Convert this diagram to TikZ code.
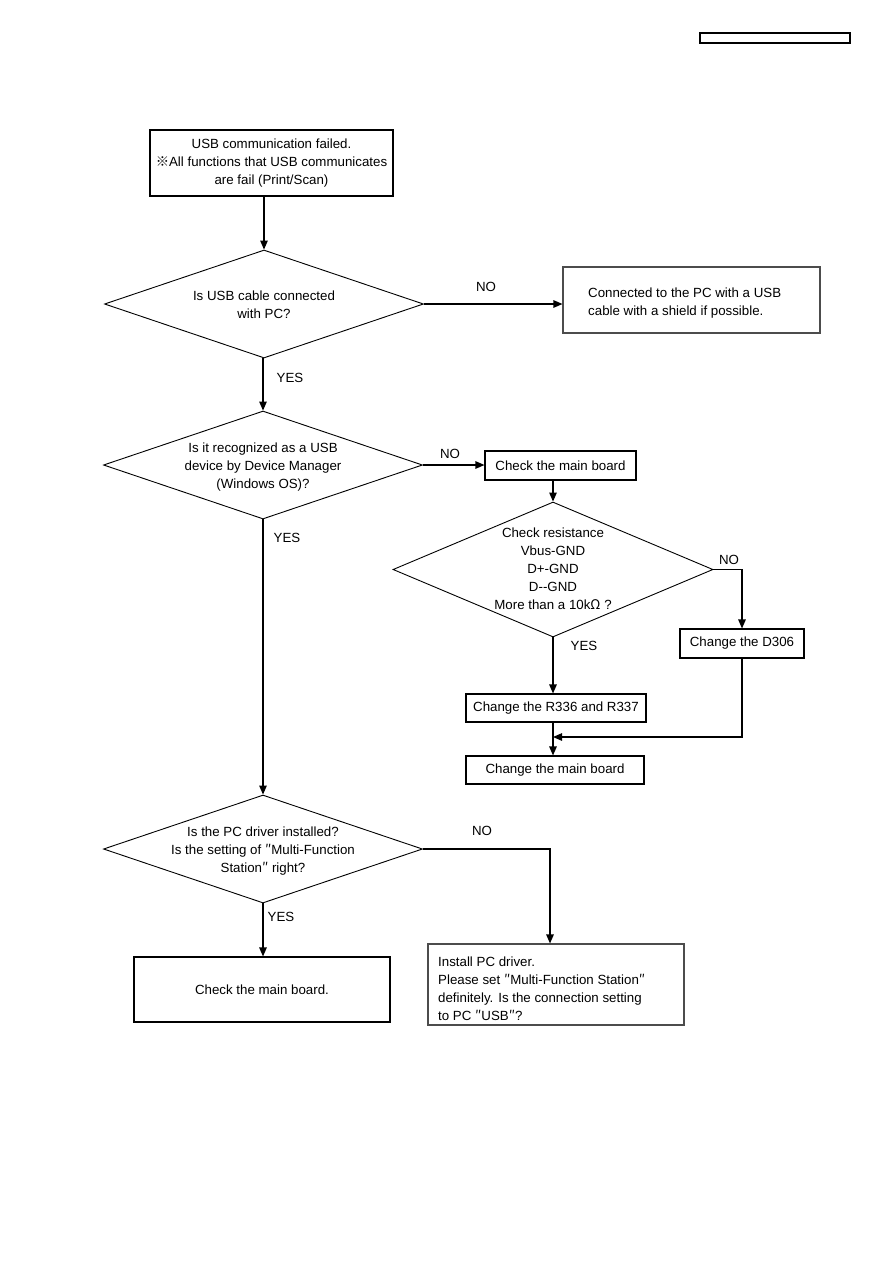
\documentclass[tikz,border=0pt]{standalone}
\usepackage{fontspec}
\setmainfont{Liberation Sans}
\newfontfamily\cjk{Noto Sans CJK JP}
\usetikzlibrary{shapes.geometric,arrows.meta}
\begin{document}
\begin{tikzpicture}[x=1pt,y=-1pt,
  font=\fontsize{13.3}{18}\selectfont,
  box/.style={draw=black, line width=1.1pt, inner sep=0pt},
  gbox/.style={draw=black!70, line width=1.1pt, inner sep=0pt},
  dia/.style={draw=black, line width=0.9pt, diamond, inner sep=0pt, aspect=3},
  arr/.style={-{Triangle[length=9pt,width=7.5pt]}, line width=1.2pt},
  lbl/.style={inner sep=0pt},
  txt/.style={align=center, inner sep=0pt}]
\useasboundingbox (0,0) rectangle (893,1263);
\fill[white] (0,0) rectangle (893,1263);

% header box
\node[box, line width=1.2pt, minimum width=150, minimum height=10] (hdr) at (775,38) {};

% top box
\node[box, minimum width=243, minimum height=66, align=center] (b1) at (271.5,163)
  {USB communication failed.\\{\cjk ※}All functions that USB communicates\\are fail (Print/Scan)};

% diamond 1
\node[dia, minimum width=319, minimum height=108] (d1) at (264,304) {};
\node[txt] (d1t) at (264,305) {Is USB cable connected\\with PC?};

% box 2
\node[gbox, minimum width=257, minimum height=66] (b2) at (691.5,300) {};
\node[lbl, anchor=west, align=left] (b2t) at (588,303) {Connected to the PC with a USB\\cable with a shield if possible.};

% diamond 2
\node[dia, minimum width=319, minimum height=108] (d2) at (263,465) {};
\node[txt] (d2t) at (263,467) {Is it recognized as a USB\\device by Device Manager\\(Windows OS)?};

% check main board
\node[box, minimum width=151, minimum height=29] (cmb1) at (560.5,465.5) {Check the main board};

% diamond 3
\node[dia, minimum width=320, minimum height=135] (d3) at (553,569.5) {};
\node[txt] (d3t) at (553,569) {Check resistance\\Vbus-GND\\D+-GND\\D-{}-GND\\More than a 10k{\cjk Ω} ?};

% D306
\node[box, minimum width=124, minimum height=29] (d306) at (742,643.5) {Change the D306};

% R336
\node[box, minimum width=180, minimum height=28] (r336) at (556,708) {Change the R336 and R337};

% change main board
\node[box, minimum width=178, minimum height=28] (cmb2) at (555,770) {Change the main board};

% diamond 4
\node[dia, minimum width=319, minimum height=108] (d4) at (263,849) {};
\node[txt] (d4t) at (263,851) {Is the PC driver installed?\\Is the setting of {\cjk ″}Multi-Function\\Station{\cjk ″} right?};

% check main board.
\node[box, minimum width=256, minimum height=65] (cmb3) at (262,989.5) {Check the main board.};

% install
\node[gbox, minimum width=256, minimum height=81] (inst) at (556,984.5) {};
\node[lbl, anchor=west, align=left] (instt) at (438,988.5)
  {Install PC driver.\\Please set {\cjk ″}Multi-Function Station{\cjk ″}\\definitely. Is the connection setting\\to PC {\cjk ″}USB{\cjk ″}?};

% coordinates
\coordinate (m) at (553,737);
\coordinate (c4) at (550,849);

% connectors
\draw[arr] (b1.south -| d1.north) -- (d1.north);
\draw[arr] (d1.east) -- (b2.west |- d1.east);
\draw[arr] (d1.south -| d2.north) -- (d2.north);
\draw[arr] (d2.east) -- (cmb1.west |- d2.east);
\draw[arr] (cmb1.south -| d3.north) -- (d3.north);
\draw[arr] (d3.east) -- (d3.east -| d306.north) -- (d306.north);
\draw[arr] (d3.south) -- (d3.south |- r336.north);
\draw[arr] (r336.south -| d3.south) -- (d3.south |- cmb2.north);
\draw[arr] (d306.south) -- (d306.south |- m) -- (m);
\draw[arr] (d2.south) -- (d4.north);
\draw[arr] (d4.east) -- (c4) -- (c4 |- inst.north);
\draw[arr] (d4.south) -- (cmb3.north -| d4.south);

% labels
\node[lbl] (l1) at (486,287) {NO};
\node[lbl] (l2) at (290,378) {YES};
\node[lbl] (l3) at (450,454) {NO};
\node[lbl] (l4) at (287,538) {YES};
\node[lbl] (l5) at (729,560) {NO};
\node[lbl] (l6) at (584,646) {YES};
\node[lbl] (l7) at (482,831) {NO};
\node[lbl] (l8) at (281,917) {YES};
\end{tikzpicture}
\end{document}
